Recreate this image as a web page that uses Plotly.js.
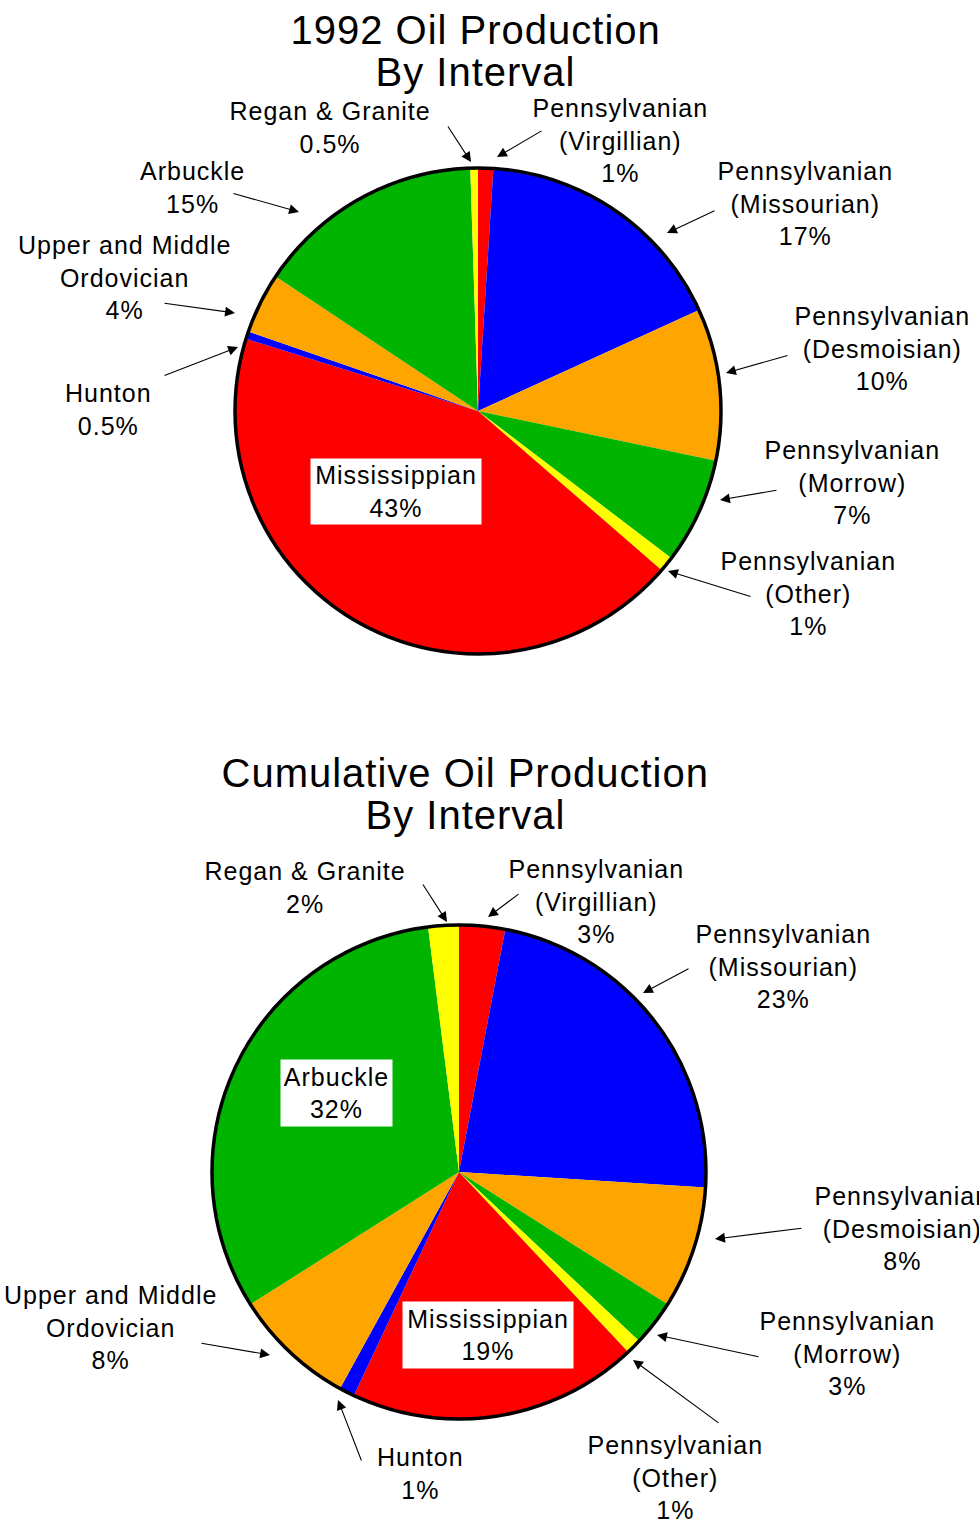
<!DOCTYPE html>
<html>
<head>
<meta charset="utf-8">
<script src="https://cdn.plot.ly/plotly-3.0.1.min.js"></script>
<style>
html,body{margin:0;padding:0;background:#fff;}
#chart text{letter-spacing:1px;}
</style>
</head>
<body>
<div id="chart" style="width:979px;height:1523px;"></div>
<script>
// ---- data ----
const intervals = ['Pennsylvanian (Virgillian)', 'Pennsylvanian (Missourian)', 'Pennsylvanian (Desmoisian)',
  'Pennsylvanian (Morrow)', 'Pennsylvanian (Other)', 'Mississippian', 'Hunton',
  'Upper and Middle Ordovician', 'Arbuckle', 'Regan & Granite'];
const labelLines = ['Pennsylvanian<br>(Virgillian)', 'Pennsylvanian<br>(Missourian)', 'Pennsylvanian<br>(Desmoisian)',
  'Pennsylvanian<br>(Morrow)', 'Pennsylvanian<br>(Other)', 'Mississippian', 'Hunton',
  'Upper and Middle<br>Ordovician', 'Arbuckle', 'Regan & Granite'];
const values1992 = [1, 17, 10, 7, 1, 43, 0.5, 4, 15, 0.5];
const valuesCumulative = [3, 23, 8, 3, 1, 19, 1, 8, 32, 2];
const sliceColors = ['#ff0000', '#0000ff', '#ffa500', '#00b400', '#ffff00', '#ff0000', '#0000ff', '#ffa500', '#00b400', '#ffff00'];
const titles1992 = ['1992 Oil Production', 'By Interval'];
const titlesCumulative = ['Cumulative Oil Production', 'By Interval'];

// ---- layout geometry (pixels) ----
const W = 979, H = 1523;
const px = x => x / W;
const py = y => 1 - y / H;
const pies = [
  {cx: 478, cy: 411, r: 243},
  {cx: 459, cy: 1172, r: 247}
];
// label placements: text centre, arrow tail, arrow head; boxed labels carry a box size
const place1992 = [
  {t: [620, 140], a: [543, 130], h: [497, 157]},
  {t: [805, 204], a: [716, 210], h: [667, 233]},
  {t: [882, 348], a: [789, 355], h: [726, 373]},
  {t: [852, 483], a: [778, 490], h: [720, 500]},
  {t: [808, 593], a: [752, 597], h: [668, 571]},
  {t: [396, 491], box: [170, 65]},
  {t: [108, 409], a: [163, 376], h: [238, 347]},
  {t: [124, 277], a: [163, 303], h: [235, 313]},
  {t: [192, 187], a: [232, 193], h: [299, 212]},
  {t: [330, 128], a: [447, 125], h: [471, 162]}
];
const placeCum = [
  {t: [596, 901], a: [520, 893], h: [488, 917]},
  {t: [783, 966], a: [690, 968], h: [643, 993]},
  {t: [902, 1228], a: [803, 1228], h: [715, 1239]},
  {t: [847, 1353], a: [760, 1357], h: [657, 1335]},
  {t: [675, 1477], a: [720, 1424], h: [633, 1360]},
  {t: [488, 1335], box: [170, 66]},
  {t: [420, 1473], a: [362, 1462], h: [338, 1400]},
  {t: [110, 1327], a: [200, 1343], h: [270, 1355]},
  {t: [336, 1093], box: [111, 66]},
  {t: [305, 888], a: [422, 883], h: [447, 922]}
];

const FONT = 'Liberation Sans, Arial, Helvetica, sans-serif';

function pieTrace(values, g) {
  return {
    type: 'pie',
    labels: intervals,
    values: values,
    sort: false,
    direction: 'clockwise',
    rotation: 0,
    textinfo: 'none',
    hoverinfo: 'label+percent',
    marker: {colors: sliceColors, line: {width: 0}},
    domain: {x: [px(g.cx - g.r), px(g.cx + g.r)], y: [py(g.cy + g.r), py(g.cy - g.r)]},
    showlegend: false
  };
}

const annotations = [];
const shapes = [];

function addTitle(lines, cx, ys) {
  lines.forEach((s, i) => annotations.push({
    xref: 'paper', yref: 'paper', x: px(cx), y: py(ys[i]), xanchor: 'center', yanchor: 'middle',
    text: s, showarrow: false, font: {family: FONT, size: 40, color: '#000'}
  }));
}

function addLabels(values, places) {
  places.forEach((p, i) => {
    const txt = labelLines[i] + '<br>' + values[i] + '%';
    const a = {
      xref: 'paper', yref: 'paper', x: px(p.t[0]), y: py(p.t[1]), xanchor: 'center', yanchor: 'middle',
      text: txt, showarrow: false, font: {family: FONT, size: 25, color: '#000'}
    };
    if (p.box) {
      a.bgcolor = '#ffffff'; a.borderpad = 0;
      a.width = p.box[0]; a.height = p.box[1];
      a.align = 'center'; a.valign = 'middle';
    }
    annotations.push(a);
    if (p.a) {
      annotations.push({
        xref: 'paper', yref: 'paper', x: px(p.h[0]), y: py(p.h[1]),
        ax: p.a[0] - p.h[0], ay: p.a[1] - p.h[1], axref: 'pixel', ayref: 'pixel',
        text: '', showarrow: true, arrowhead: 2, arrowsize: 1.8, arrowwidth: 1.1, arrowcolor: '#000',
        standoff: 0, startstandoff: 0
      });
    }
  });
}

pies.forEach(g => shapes.push({
  type: 'circle', xref: 'paper', yref: 'paper', layer: 'above',
  x0: px(g.cx - g.r), x1: px(g.cx + g.r), y0: py(g.cy + g.r), y1: py(g.cy - g.r),
  line: {color: '#000', width: 3.5}
}));

addTitle(titles1992, 475, [30, 72]);
addTitle(titlesCumulative, 465, [773, 815]);
addLabels(values1992, place1992);
addLabels(valuesCumulative, placeCum);

const layout = {
  width: W, height: H,
  margin: {l: 0, r: 0, t: 0, b: 0, pad: 0},
  paper_bgcolor: '#ffffff',
  plot_bgcolor: '#ffffff',
  showlegend: false,
  annotations: annotations,
  shapes: shapes,
  font: {family: FONT}
};

Plotly.newPlot('chart', [pieTrace(values1992, pies[0]), pieTrace(valuesCumulative, pies[1])], layout,
  {displayModeBar: false, staticPlot: true});
</script>
</body>
</html>
